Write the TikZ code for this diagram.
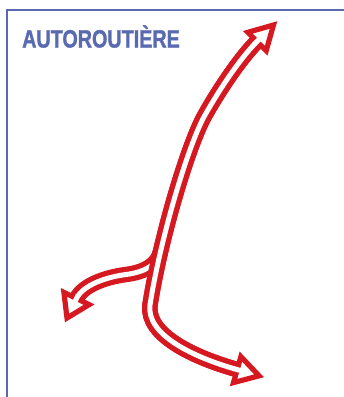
\documentclass[tikz,border=0pt]{standalone}
\usepackage{fontspec}
\usepackage{graphicx}
\setmainfont{Liberation Sans}
\newfontfamily\titlefont{Liberation Sans}[FakeBold=1.5]
\usetikzlibrary{calc}
\definecolor{frameblue}{RGB}{90,106,176}
\definecolor{roadred}{RGB}{214,25,32}
\tikzset{
  redband/.style={draw=roadred, line width=15.5pt},
  whiteband/.style={draw=white, line width=5pt},
  headshape/.style={fill=white, draw=roadred, line width=5.2pt, line join=miter},
  stubline/.style={draw=white, line width=5pt},
  frameline/.style={draw=frameblue, line width=2.5pt},
}
\begin{document}
\begin{tikzpicture}[x=1pt,y=-1pt]
\useasboundingbox (0,0) rectangle (344,397);
\fill[white] (0,0) rectangle (344,397);
\draw[frameline] (344,10) -- (7,10) -- (7,397);
\node[anchor=base west, inner sep=0, text=frameblue,
      font=\titlefont\bfseries\fontsize{25}{27}\selectfont] (title) at (22,47.5)
      {\scalebox{0.79}[1]{AUTOROUTIÈRE}};
% head coordinates
\coordinate (T1) at (273.5,25);   \coordinate (B1) at (257,41.5);
\coordinate (T2) at (259.1,375.8); \coordinate (B2) at (237.2,369.6);
\coordinate (T3) at (67,318);      \coordinate (B3) at (76.5,298.5);
\coordinate (J) at (160.4,252.1);
% 1. red bands
\draw[redband] (B1) .. controls (242,56.5) and (222,85) .. (205,115)
  .. controls (188,145) and (160,240) .. (150,305)
  .. controls (146,335) and (194,357.5) .. (B2);
\draw[redband] (J) .. controls (157,265) and (145,272) .. (126,274.5)
  .. controls (106,277.1) and (83.1,285) .. (B3);
% 2. white branch
\draw[whiteband] (J) .. controls (157,265) and (145,272) .. (126,274.5)
  .. controls (106,277.1) and (83.1,285) .. (B3);
% 3. red main again
\draw[redband] (B1) .. controls (242,56.5) and (222,85) .. (205,115)
  .. controls (188,145) and (160,240) .. (150,305)
  .. controls (146,335) and (194,357.5) .. (B2);
% 4. white main
\draw[whiteband] (B1) .. controls (242,56.5) and (222,85) .. (205,115)
  .. controls (188,145) and (160,240) .. (150,305)
  .. controls (146,335) and (194,357.5) .. (B2);
% 5. heads
\filldraw[headshape] ($(B1)!13pt!90:(T1)$) -- (T1) -- ($(B1)!13pt!-90:(T1)$) -- cycle;
\filldraw[headshape] ($(B2)!13.5pt!90:(T2)$) -- (T2) -- ($(B2)!13.5pt!-90:(T2)$) -- cycle;
\filldraw[headshape] ($(B3)!14pt!90:(T3)$) -- (T3) -- ($(B3)!14pt!-90:(T3)$) -- cycle;
% 6. stubs joining shaft stripe to head interior
\draw[stubline] ($(B1)!-4pt!(T1)$) -- ($(B1)!5.5pt!(T1)$);
\draw[stubline] ($(B2)!-4pt!(T2)$) -- ($(B2)!5.5pt!(T2)$);
\draw[stubline] ($(B3)!-4pt!(T3)$) -- ($(B3)!5.5pt!(T3)$);
\end{tikzpicture}
\end{document}
